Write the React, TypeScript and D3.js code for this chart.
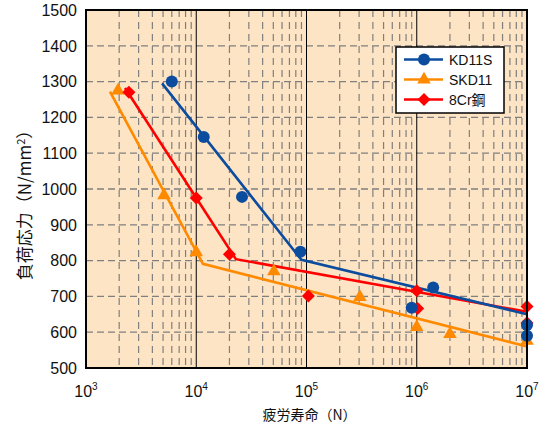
import React from "react";
import * as d3 from "d3";

// ---- data ----
const kd11sPoints: [number, number][] = [
  [6000, 1300], [11700, 1145], [26000, 978], [88000, 825],
  [900000, 668], [1410000, 725], [10000000, 620], [10000000, 590],
];
const skd11Points: [number, number][] = [
  [1950, 1275], [5100, 982], [10000, 823], [50600, 770],
  [305000, 698], [1000000, 614], [2000000, 595], [10000000, 576],
];
const cr8Points: [number, number][] = [
  [2450, 1270], [10000, 975], [20000, 818], [104000, 701],
  [1000000, 716], [1020000, 666], [10000000, 672], [10000000, 626],
];
// fitted S-N lines
const kd11sLine: [number, number][] = [[4900, 1295], [90000, 802], [10000000, 650]];
const skd11Line: [number, number][] = [[1650, 1272], [11500, 791], [10000000, 560]];
const cr8Line: [number, number][] = [[2260, 1282], [22900, 804], [10000000, 657]];

const yTicks = [500, 600, 700, 800, 900, 1000, 1100, 1200, 1300, 1400, 1500];
const xExponents = [3, 4, 5, 6, 7];
const seriesNames = ["KD11S", "SKD11", "8Cr鋼"];

const W = 551, H = 425;
const M = { left: 86, right: 527, top: 10, bottom: 368 };
const BLUE = "#0b4c9f";
const ORANGE = "#ff8a00";
const RED = "#ff0000";
const FONT = "'Liberation Sans', Arial, 'Noto Sans CJK JP', sans-serif";
const CJK = "'Noto Sans CJK JP', 'Liberation Sans', sans-serif";

function Marker({ type, x, y, color }: { type: string; x: number; y: number; color: string }) {
  if (type === "circle") return <circle cx={x} cy={y} r={6} fill={color} />;
  if (type === "triangle") {
    const s = d3.symbol().type(d3.symbolTriangle).size(80)();
    return <path d={s || ""} transform={`translate(${x},${y})`} fill={color} />;
  }
  const s = d3.symbol().type(d3.symbolSquare).size(85)();
  return <path d={s || ""} transform={`translate(${x},${y}) rotate(45)`} fill={color} />;
}

export default function App() {
  const x = d3.scaleLog().domain([1e3, 1e7]).range([M.left, M.right]);
  const y = d3.scaleLinear().domain([500, 1500]).range([M.bottom, M.top]);
  const line = d3.line<[number, number]>().x((d) => x(d[0])).y((d) => y(d[1]));

  const minor: number[] = [];
  for (let e = 3; e < 7; e++) for (let k = 2; k <= 9; k++) minor.push(k * Math.pow(10, e));
  const major = [1e4, 1e5, 1e6];

  const series = [
    { name: seriesNames[1], pts: skd11Points, ln: skd11Line, color: ORANGE, type: "triangle" },
    { name: seriesNames[2], pts: cr8Points, ln: cr8Line, color: RED, type: "diamond" },
    { name: seriesNames[0], pts: kd11sPoints, ln: kd11sLine, color: BLUE, type: "circle" },
  ];
  const legendOrder = [
    { name: seriesNames[0], color: BLUE, type: "circle" },
    { name: seriesNames[1], color: ORANGE, type: "triangle" },
    { name: seriesNames[2], color: RED, type: "diamond" },
  ];

  return (
    <svg width={W} height={H} style={{ position: "absolute", left: 0, top: 0, background: "#fff" }}>
      <rect x={M.left} y={M.top} width={M.right - M.left} height={M.bottom - M.top} fill="#fde4c4" />
      {yTicks.slice(1, -1).map((t) => (
        <line key={"h" + t} x1={M.left} x2={M.right} y1={y(t)} y2={y(t)} stroke="#7f7f7f" strokeWidth={1.3} strokeDasharray="7,4" />
      ))}
      {minor.map((v) => (
        <line key={"m" + v} x1={x(v)} x2={x(v)} y1={M.top} y2={M.bottom} stroke="#7f7f7f" strokeWidth={1.2} strokeDasharray="7,5" />
      ))}
      {major.map((v) => (
        <line key={"M" + v} x1={x(v)} x2={x(v)} y1={M.top} y2={M.bottom} stroke="#000" strokeWidth={1} />
      ))}
      {series.map((s) => (
        <path key={"l" + s.name} d={line(s.ln) || ""} fill="none" stroke={s.color} strokeWidth={2.6} />
      ))}
      {series.map((s) =>
        s.pts.map((p, i) => <Marker key={s.name + i} type={s.type} x={x(p[0])} y={y(p[1])} color={s.color} />)
      )}
      <rect x={M.left} y={M.top} width={M.right - M.left} height={M.bottom - M.top} fill="none" stroke="#000" strokeWidth={2} />
      {yTicks.map((t) => (
        <text key={"yt" + t} x={77} y={y(t)} dy="0.36em" textAnchor="end" fontFamily={FONT} fontSize={16} fill="#111">
          {t}
        </text>
      ))}
      {xExponents.map((e) => (
        <text key={"xt" + e} x={x(Math.pow(10, e))} y={397} textAnchor="middle" fontFamily={FONT} fontSize={16} fill="#111">
          10<tspan dy={-7} fontSize={10}>{e}</tspan>
        </text>
      ))}
      <text x={(M.left + M.right) / 2 + 3} y={420} textAnchor="middle" fontFamily={CJK} fontSize={14} fill="#111">
        疲労寿命（N）
      </text>
      <text transform={`translate(31,${(M.top + M.bottom) / 2 + 12}) rotate(-90)`} textAnchor="middle" fontFamily={CJK} fontSize={17} fill="#111">
        負荷応力（N/mm<tspan dy={-6} fontSize={11}>2</tspan><tspan dy={6}>）</tspan>
      </text>
      <g>
        <rect x={396} y={47} width={108} height={66} fill="#fff" stroke="#000" strokeWidth={1.5} />
        {legendOrder.map((s, i) => {
          const cy = 59.5 + i * 20;
          return (
            <g key={"lg" + s.name}>
              <line x1={404} x2={443} y1={cy} y2={cy} stroke={s.color} strokeWidth={2.6} />
              <Marker type={s.type} x={424} y={cy} color={s.color} />
              <text x={449} y={cy} dy="0.36em" fontFamily={FONT} fontSize={14} fill="#111">
                {s.name}
              </text>
            </g>
          );
        })}
      </g>
    </svg>
  );
}
